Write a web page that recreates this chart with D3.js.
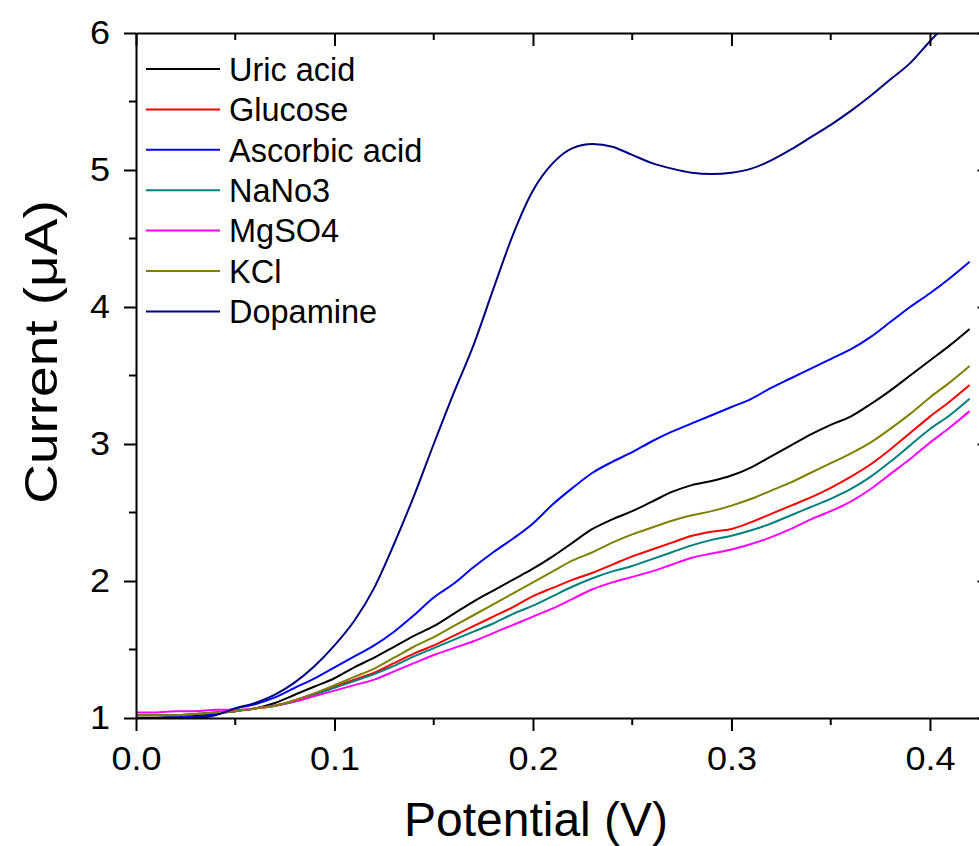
<!DOCTYPE html>
<html lang="en">
<head>
  <meta charset="UTF-8">
  <title>Current vs Potential</title>
  <script src="https://d3js.org/d3.v7.min.js"></script>
  <style>
    body {
      margin: 0;
      background: #fff;
      font-family: Arial, "Liberation Sans", sans-serif;
    }

    .axis path, .axis line {
      stroke: #000;
      stroke-width: 2px;
      fill: none;
    }

    .axis text {
      font-family: Arial, "Liberation Sans", sans-serif;
      font-size: 34px;
      fill: #000;
    }

    .axis-title {
      font-size: 47px;
      fill: #000;
    }

    .legend text {
      font-size: 32.5px;
      fill: #000;
    }

    .curve {
      fill: none;
      stroke-width: 2px;
      stroke-linejoin: round;
    }
  </style>
</head>
<body>
  <div id="chart"></div>

  <script>
    // potential grid (V), shared by every series
    const potential = [
      0.00, 0.01, 0.02, 0.03, 0.04, 0.05, 0.06, 0.07, 0.08, 0.09,
      0.10, 0.11, 0.12, 0.13, 0.14, 0.15, 0.16, 0.17, 0.18, 0.19,
      0.20, 0.21, 0.22, 0.23, 0.24, 0.25, 0.26, 0.27, 0.28, 0.29,
      0.30, 0.31, 0.32, 0.33, 0.34, 0.35, 0.36, 0.37, 0.38, 0.39,
      0.40, 0.41, 0.42
    ];

    // current (uA)
    const uricAcid = [
      1.00, 1.00, 1.01, 1.02, 1.03, 1.05, 1.07, 1.11, 1.17, 1.23,
      1.29, 1.37, 1.44, 1.52, 1.60, 1.67, 1.76, 1.85, 1.93, 2.01,
      2.09, 2.18, 2.28, 2.38, 2.45, 2.51, 2.58, 2.65, 2.70, 2.73,
      2.77, 2.83, 2.91, 2.99, 3.07, 3.14, 3.20, 3.29, 3.39, 3.50,
      3.61, 3.72, 3.84
    ];
    const glucose = [
      1.02, 1.02, 1.02, 1.03, 1.04, 1.05, 1.07, 1.09, 1.13, 1.18,
      1.23, 1.28, 1.33, 1.40, 1.47, 1.53, 1.60, 1.67, 1.74, 1.81,
      1.89, 1.95, 2.01, 2.06, 2.12, 2.18, 2.23, 2.28, 2.33, 2.36,
      2.38, 2.43, 2.49, 2.55, 2.61, 2.68, 2.76, 2.85, 2.96, 3.08,
      3.20, 3.31, 3.43
    ];
    const ascorbicAcid = [
      1.00, 1.00, 1.01, 1.01, 1.03, 1.07, 1.10, 1.15, 1.22, 1.29,
      1.37, 1.45, 1.53, 1.63, 1.75, 1.88, 1.98, 2.10, 2.21, 2.31,
      2.42, 2.56, 2.68, 2.79, 2.87, 2.94, 3.02, 3.09, 3.15, 3.21,
      3.27, 3.33, 3.41, 3.48, 3.55, 3.62, 3.69, 3.78, 3.89, 4.00,
      4.10, 4.21, 4.33
    ];
    const nano3 = [
      1.02, 1.02, 1.02, 1.03, 1.04, 1.05, 1.07, 1.09, 1.12, 1.17,
      1.22, 1.27, 1.32, 1.38, 1.45, 1.51, 1.57, 1.63, 1.69, 1.76,
      1.82, 1.89, 1.96, 2.02, 2.07, 2.11, 2.16, 2.21, 2.26, 2.30,
      2.33, 2.37, 2.42, 2.48, 2.54, 2.60, 2.67, 2.76, 2.87, 2.99,
      3.11, 3.21, 3.33
    ];
    const mgso4 = [
      1.04, 1.04, 1.05, 1.05, 1.06, 1.06, 1.07, 1.09, 1.12, 1.16,
      1.20, 1.24, 1.28, 1.34, 1.40, 1.46, 1.51, 1.56, 1.62, 1.68,
      1.74, 1.80, 1.87, 1.94, 1.99, 2.03, 2.07, 2.12, 2.17, 2.20,
      2.23, 2.27, 2.32, 2.38, 2.45, 2.51, 2.58, 2.67, 2.78, 2.89,
      3.01, 3.12, 3.24
    ];
    const kcl = [
      1.02, 1.02, 1.02, 1.03, 1.04, 1.05, 1.07, 1.09, 1.13, 1.18,
      1.24, 1.30, 1.36, 1.44, 1.52, 1.59, 1.67, 1.75, 1.83, 1.91,
      1.99, 2.07, 2.15, 2.21, 2.28, 2.34, 2.39, 2.44, 2.48, 2.51,
      2.55, 2.60, 2.66, 2.72, 2.79, 2.86, 2.93, 3.01, 3.11, 3.22,
      3.34, 3.45, 3.57
    ];
    const dopamine = [
      1.00, 1.00, 1.00, 1.00, 1.02, 1.07, 1.11, 1.17, 1.26, 1.38,
      1.53, 1.71, 1.95, 2.27, 2.62, 3.00, 3.37, 3.72, 4.13, 4.53,
      4.85, 5.05, 5.16, 5.19, 5.17, 5.11, 5.05, 5.01, 4.98, 4.97,
      4.98, 5.01, 5.07, 5.15, 5.24, 5.33, 5.43, 5.54, 5.66, 5.78,
      5.94, 6.09, 6.24
    ];

    const seriesNames = ["Uric acid", "Glucose", "Ascorbic acid", "NaNo3", "MgSO4", "KCl", "Dopamine"];
    const seriesValues = [uricAcid, glucose, ascorbicAcid, nano3, mgso4, kcl, dopamine];
    const seriesColors = ["#000000", "#ff0000", "#0000ff", "#008080", "#ff00ff", "#808000", "#000080"];

    const xTicks = [0, 0.1, 0.2, 0.3, 0.4];
    const xMinorTicks = [0.05, 0.15, 0.25, 0.35];
    const yTicks = [1, 2, 3, 4, 5, 6];
    const yMinorTicks = [1.5, 2.5, 3.5, 4.5, 5.5];

    const W = 979, H = 846;
    const plotLeft = 136, plotRight = 989.5, plotTop = 33, plotBottom = 718;
    const labelStretch = 1.06; // tick labels are drawn a bit wider than plain Arial

    const svg = d3.select("#chart")
      .append("svg")
      .attr("width", W)
      .attr("height", H);

    const x = d3.scaleLinear().domain([0, 0.43]).range([plotLeft, plotRight]);
    const y = d3.scaleLinear().domain([1, 6]).range([plotBottom, plotTop]);

    // ============================
    // Curves (clipped to the frame)
    // ============================
    svg.append("clipPath")
      .attr("id", "plot-clip")
      .append("rect")
      .attr("x", plotLeft)
      .attr("y", plotTop)
      .attr("width", plotRight - plotLeft)
      .attr("height", plotBottom - plotTop);

    const line = d3.line()
      .x(d => x(d[0]))
      .y(d => y(d[1]))
      .curve(d3.curveMonotoneX);

    const curves = svg.append("g").attr("clip-path", "url(#plot-clip)");
    seriesValues.forEach((vals, i) => {
      curves.append("path")
        .attr("class", "curve")
        .attr("stroke", seriesColors[i])
        .attr("d", line(potential.map((p, j) => [p, vals[j]])));
    });

    // ============================
    // Axes: bottom/left ticks out, top/right ticks in
    // ============================
    const fmt = d3.format(".1f");

    const bottomAxis = svg.append("g")
      .attr("class", "axis")
      .attr("transform", `translate(0,${plotBottom})`)
      .call(d3.axisBottom(x).tickValues(xTicks).tickFormat(fmt).tickSize(13).tickPadding(15).tickSizeOuter(0));
    bottomAxis.selectAll(".tick text").attr("transform", `scale(${labelStretch},1)`);
    bottomAxis.append("g").selectAll("line")
      .data(xMinorTicks).enter().append("line")
      .attr("x1", d => x(d)).attr("x2", d => x(d))
      .attr("y1", 0).attr("y2", 7);

    const leftAxis = svg.append("g")
      .attr("class", "axis")
      .attr("transform", `translate(${plotLeft},0)`)
      .call(d3.axisLeft(y).tickValues(yTicks).tickFormat(d3.format("d")).tickSize(12).tickPadding(12.5).tickSizeOuter(0));
    leftAxis.selectAll(".tick text").attr("transform", `scale(${labelStretch},1)`);
    leftAxis.append("g").selectAll("line")
      .data(yMinorTicks).enter().append("line")
      .attr("y1", d => y(d)).attr("y2", d => y(d))
      .attr("x1", 0).attr("x2", -7);

    const topAxis = svg.append("g")
      .attr("class", "axis")
      .attr("transform", `translate(0,${plotTop})`)
      .call(d3.axisTop(x).tickValues(xTicks).tickFormat("").tickSize(-13).tickSizeOuter(0));
    topAxis.append("g").selectAll("line")
      .data(xMinorTicks).enter().append("line")
      .attr("x1", d => x(d)).attr("x2", d => x(d))
      .attr("y1", 0).attr("y2", 7);

    const rightAxis = svg.append("g")
      .attr("class", "axis")
      .attr("transform", `translate(${plotRight},0)`)
      .call(d3.axisRight(y).tickValues(yTicks).tickFormat("").tickSize(-12).tickSizeOuter(0));
    rightAxis.append("g").selectAll("line")
      .data(yMinorTicks).enter().append("line")
      .attr("y1", d => y(d)).attr("y2", d => y(d))
      .attr("x1", 0).attr("x2", -7);

    // axis titles
    svg.append("text")
      .attr("class", "axis-title")
      .style("font-size", "48px")
      .attr("x", 536)
      .attr("y", 836)
      .attr("text-anchor", "middle")
      .text("Potential (V)");

    svg.append("text")
      .attr("class", "axis-title")
      .attr("transform", "translate(57,352) rotate(-90) scale(1.17,1)")
      .attr("text-anchor", "middle")
      .text("Current (μA)");

    // ============================
    // Legend
    // ============================
    const legend = svg.append("g").attr("class", "legend");
    seriesNames.forEach((name, i) => {
      const ly = 69 + i * 40.4;
      legend.append("line")
        .attr("x1", 146).attr("x2", 220)
        .attr("y1", ly).attr("y2", ly)
        .attr("stroke", seriesColors[i])
        .attr("stroke-width", 2);
      legend.append("text")
        .attr("x", 229)
        .attr("y", ly)
        .attr("dy", "0.36em")
        .text(name);
    });
  </script>
</body>
</html>
